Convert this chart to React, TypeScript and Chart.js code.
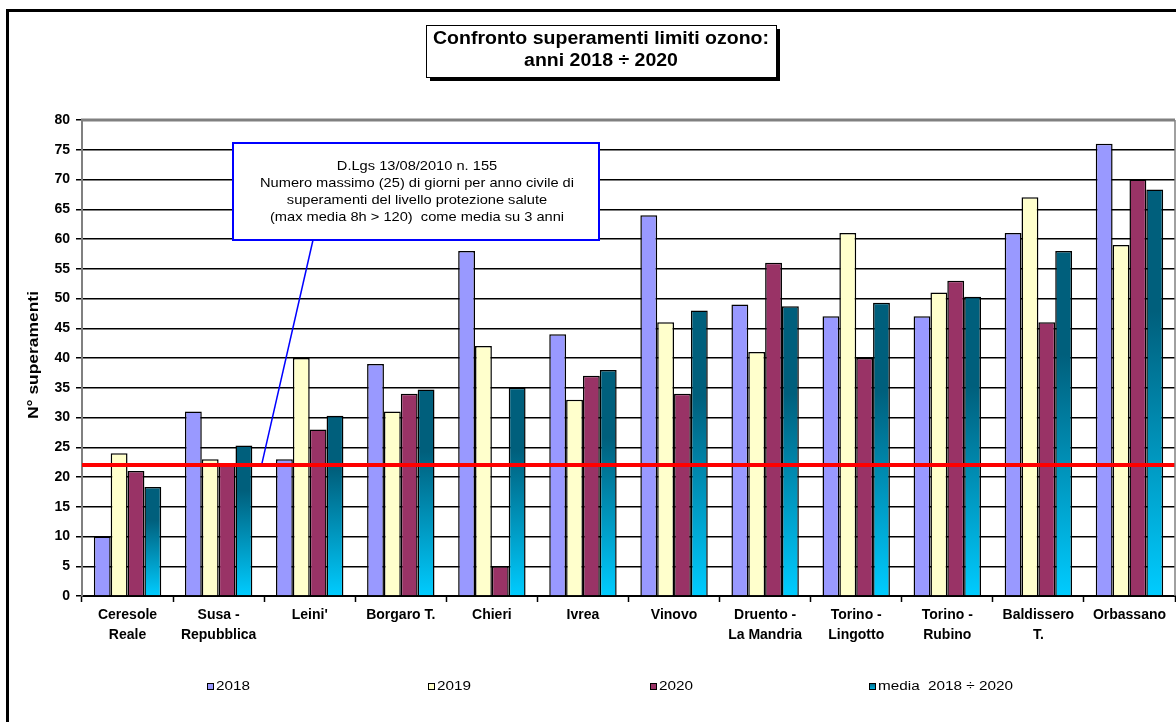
import React, { useEffect, useRef } from "react";
import { Chart, registerables } from "chart.js";

Chart.register(...registerables);

const categories: string[][] = [
  ["Ceresole", "Reale"],
  ["Susa -", "Repubblica"],
  ["Leini'"],
  ["Borgaro T."],
  ["Chieri"],
  ["Ivrea"],
  ["Vinovo"],
  ["Druento -", "La Mandria"],
  ["Torino -", "Lingotto"],
  ["Torino -", "Rubino"],
  ["Baldissero", "T."],
  ["Orbassano"],
];

const values2018 = [10, 31, 23, 39, 58, 44, 64, 49, 47, 47, 61, 76];
const values2019 = [24, 23, 40, 31, 42, 33, 46, 41, 61, 51, 67, 59];
const values2020 = [21, 22, 28, 34, 5, 37, 34, 56, 40, 53, 46, 70];
const valuesMedia = [18.3, 25.3, 30.3, 34.7, 35, 38, 48, 48.7, 49.3, 50.3, 58, 68.3];

const seriesLabels = ["2018", "2019", "2020", "media  2018 \u00f7 2020"];
const limitValue = 22;

const titleLines = ["Confronto superamenti limiti ozono:", "anni 2018 \u00f7 2020"];
const noteLines = [
  "D.Lgs 13/08/2010 n. 155",
  "Numero massimo (25) di giorni per anno civile di",
  "superamenti del livello protezione salute",
  "(max media 8h > 120)  come media su 3 anni",
];
const yTitle = "N\u00b0 superamenti";

const FONT = "'Liberation Sans', Arial, sans-serif";
const C2018 = "#9999FF";
const C2019 = "#FFFFCC";
const C2020 = "#993366";
const CMEDIA_TOP = "#005F7C";
const CMEDIA_BOT = "#00CCFF";

const mediaGradient = (ctx: any) => {
  const chart = ctx.chart;
  const { chartArea, scales } = chart;
  if (!chartArea || !scales.y || ctx.type !== "data") return "#0099CC";
  const v = ctx.raw as number;
  const top = scales.y.getPixelForValue(v);
  const bot = scales.y.getPixelForValue(0);
  const g = chart.ctx.createLinearGradient(0, top, 0, bot);
  g.addColorStop(0, CMEDIA_TOP);
  g.addColorStop(0.3, CMEDIA_TOP);
  g.addColorStop(1, CMEDIA_BOT);
  return g;
};

// draw text stretched horizontally by factor sx, anchored according to align
function drawStretched(
  ctx: CanvasRenderingContext2D,
  text: string,
  x: number,
  y: number,
  sx: number,
  align: "left" | "center"
) {
  ctx.save();
  ctx.translate(x, y);
  ctx.scale(sx, 1);
  ctx.textAlign = align;
  ctx.fillText(text, 0, 0);
  ctx.restore();
}

const decorPlugin = {
  id: "decor",
  afterDatasetsDraw(chart: any) {
    const ctx = chart.ctx as CanvasRenderingContext2D;
    const { chartArea, scales } = chart;
    ctx.save();
    const yl = scales.y.getPixelForValue(limitValue);
    ctx.strokeStyle = "#FF0000";
    ctx.lineWidth = 4;
    ctx.beginPath();
    ctx.moveTo(chartArea.left, yl);
    ctx.lineTo(chartArea.right, yl);
    ctx.stroke();
    ctx.strokeStyle = "#808080";
    ctx.lineWidth = 3;
    ctx.beginPath();
    ctx.moveTo(chartArea.left - 1, chartArea.top);
    ctx.lineTo(chartArea.right, chartArea.top);
    ctx.stroke();
    ctx.lineWidth = 1.5;
    ctx.beginPath();
    ctx.moveTo(chartArea.right, chartArea.top);
    ctx.lineTo(chartArea.right, chartArea.bottom);
    ctx.stroke();
    ctx.restore();
  },
  afterDraw(chart: any) {
    const ctx = chart.ctx as CanvasRenderingContext2D;
    const { chartArea, scales } = chart;
    ctx.save();
    ctx.strokeStyle = "#000";
    ctx.lineWidth = 3;
    ctx.beginPath();
    ctx.moveTo(7.5, 730);
    ctx.lineTo(7.5, 10.5);
    ctx.lineTo(1180, 10.5);
    ctx.stroke();

    // title box with shadow
    const bx = 426, by = 25, bw = 350, bh = 52;
    ctx.fillStyle = "#000";
    ctx.fillRect(bx + 4, by + 4, bw, bh);
    ctx.fillStyle = "#fff";
    ctx.fillRect(bx, by, bw, bh);
    ctx.strokeStyle = "#000";
    ctx.lineWidth = 1;
    ctx.strokeRect(bx + 0.5, by + 0.5, bw, bh);
    ctx.fillStyle = "#000";
    ctx.font = `bold 18px ${FONT}`;
    ctx.textBaseline = "middle";
    const tw = ctx.measureText(titleLines[0]).width;
    const tsx = 336 / tw;
    drawStretched(ctx, titleLines[0], bx + bw / 2, 39, tsx, "center");
    drawStretched(ctx, titleLines[1], bx + bw / 2, 61, tsx, "center");

    // leader line
    const yl = scales.y.getPixelForValue(limitValue);
    ctx.strokeStyle = "#0000FF";
    ctx.lineWidth = 1.5;
    ctx.beginPath();
    ctx.moveTo(313, 240);
    ctx.lineTo(262, yl - 2);
    ctx.stroke();

    // note box
    const nx = 233, ny = 143, nw = 366, nh = 97;
    ctx.fillStyle = "#fff";
    ctx.fillRect(nx, ny, nw, nh);
    ctx.strokeStyle = "#0000FF";
    ctx.lineWidth = 2;
    ctx.strokeRect(nx, ny, nw, nh);
    ctx.fillStyle = "#000";
    ctx.font = `13px ${FONT}`;
    const nw1 = ctx.measureText(noteLines[1]).width;
    const nsx = 314 / nw1;
    noteLines.forEach((l, i) => drawStretched(ctx, l, nx + nw / 2 + 1, 166 + i * 17, nsx, "center"));

    // y axis title
    ctx.save();
    ctx.translate(34, 355);
    ctx.rotate(-Math.PI / 2);
    ctx.font = `bold 14px ${FONT}`;
    const yw = ctx.measureText(yTitle).width;
    drawStretched(ctx, yTitle, 0, 0, 128 / yw, "center");
    ctx.restore();

    // legend
    const lx = [207, 428, 650, 869];
    const ly = 687;
    ctx.font = `12px ${FONT}`;
    const lsx = 34 / ctx.measureText("2018").width;
    lx.forEach((x, i) => {
      let fill: any;
      if (i === 0) fill = C2018;
      else if (i === 1) fill = C2019;
      else if (i === 2) fill = C2020;
      else {
        const g = ctx.createLinearGradient(0, ly - 4, 0, ly + 4);
        g.addColorStop(0, CMEDIA_TOP);
        g.addColorStop(1, CMEDIA_BOT);
        fill = g;
      }
      ctx.fillStyle = fill;
      ctx.fillRect(x, ly - 4, 7, 7);
      ctx.strokeStyle = "#000";
      ctx.lineWidth = 1;
      ctx.strokeRect(x + 0.5, ly - 3.5, 6, 6);
      ctx.fillStyle = "#000";
      drawStretched(ctx, seriesLabels[i], x + 9, ly, lsx, "left");
    });
    ctx.restore();
  },
};

export default function App() {
  const ref = useRef<HTMLCanvasElement>(null);
  useEffect(() => {
    if (!ref.current) return;
    const ds = (label: string, data: number[], bg: any) => ({
      label,
      data,
      backgroundColor: bg,
      borderColor: "#000",
      borderWidth: 1.5,
      categoryPercentage: 0.74,
      barPercentage: 1,
    });
    const chart = new Chart(ref.current, {
      type: "bar",
      data: {
        labels: categories as any,
        datasets: [
          ds(seriesLabels[0], values2018, C2018),
          ds(seriesLabels[1], values2019, C2019),
          ds(seriesLabels[2], values2020, C2020),
          ds(seriesLabels[3], valuesMedia, mediaGradient),
        ],
      },
      options: {
        animation: false,
        responsive: false,
        layout: { padding: { top: 120, left: 0, right: 1, bottom: 0 } },
        plugins: {
          legend: { display: false },
          title: { display: false },
          tooltip: { enabled: false },
        },
        scales: {
          x: {
            afterFit: (s: any) => { s.height = 126; },
            grid: {
              drawOnChartArea: false,
              drawTicks: true,
              tickLength: 6,
              tickColor: "#000",
              tickWidth: 1.5,
              offset: true,
            },
            border: { color: "#000", width: 2 },
            ticks: {
              color: "#000",
              font: { family: FONT, size: 14, weight: "bold", lineHeight: 1.45 },
              padding: 3,
              maxRotation: 0,
              autoSkip: false,
            },
          },
          y: {
            min: 0,
            max: 80,
            afterFit: (s: any) => { s.width = 82; },
            grid: {
              color: (c: any) => (c.tick && (c.tick.value === 80 || c.tick.value === 0) ? "rgba(0,0,0,0)" : "#000"),
              lineWidth: 1.5,
              borderDash: [10, 2, 2, 2],
              tickColor: "#000",
              tickBorderDash: [],
              tickLength: 6,
              tickWidth: 1.5,
            },
            border: { color: "#808080", width: 2 },
            ticks: {
              stepSize: 5,
              color: "#000",
              padding: 6,
              font: { family: FONT, size: 14, weight: "bold" },
            },
          },
        },
      },
      plugins: [decorPlugin],
    });
    return () => chart.destroy();
  }, []);
  return (
    <canvas
      ref={ref}
      width={1176}
      height={722}
      style={{ position: "fixed", left: 0, top: 0, display: "block", background: "#fff" }}
    />
  );
}
